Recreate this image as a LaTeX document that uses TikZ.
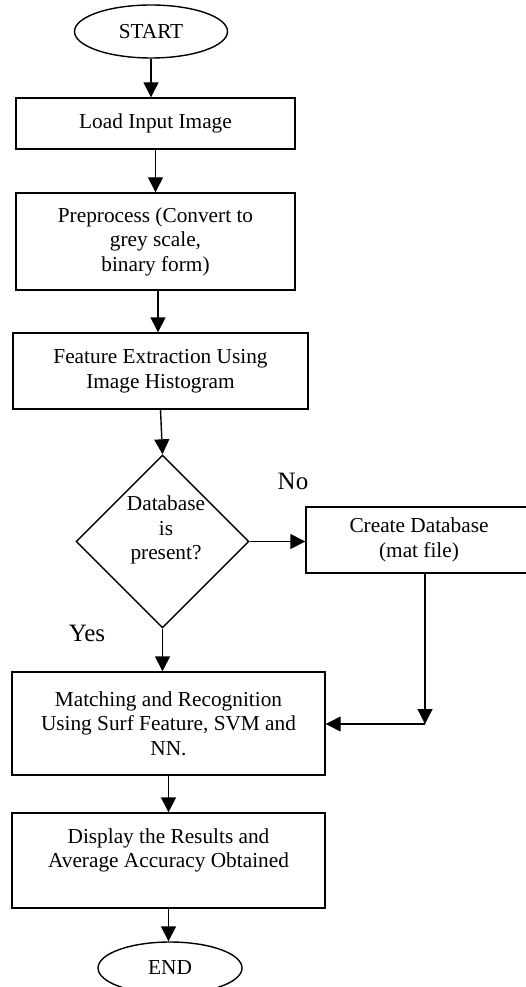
\documentclass[tikz,border=0pt]{standalone}
\usepackage{fontspec}
\setmainfont{Liberation Serif}
\usetikzlibrary{shapes.geometric,arrows.meta}
\begin{document}
\begin{tikzpicture}[x=1pt,y=-1pt,
  box/.style={draw,line width=1.4pt,rectangle,align=center,inner sep=0pt,font=\fontsize{21.3}{24.5}\selectfont},
  term/.style={draw,line width=1.4pt,ellipse,inner sep=0pt,font=\fontsize{21.3}{24.5}\selectfont},
  decision/.style={draw,line width=1.4pt,diamond,inner sep=0pt},
  txt/.style={align=center,inner sep=0pt,font=\fontsize{21.3}{24.5}\selectfont},
  arr/.style={line width=1.4pt,-{Triangle[length=15pt,width=15pt]}},
  lbl/.style={font=\fontsize{25}{30}\selectfont,inner sep=0pt}]
\useasboundingbox (0,0) rectangle (526,987);
\clip (0,0) rectangle (526,987);
\node[term,minimum width=153pt,minimum height=53pt] (start) at (151,31.5) {START};
\node[box,minimum width=279pt,minimum height=51pt] (load) at (155.5,123.5) {Load Input Image};
\node[box,minimum width=279pt,minimum height=97pt] (pre) at (155.5,241.5) {Preprocess (Convert to\\grey scale,\\binary form)};
\node[box,minimum width=295pt,minimum height=76pt] (feat) at (160.5,371) {Feature Extraction Using\\Image Histogram};
\node[decision,minimum width=173pt,minimum height=173pt] (dia) at (162.5,541.5) {};
\node[txt] (diatxt) at (166,530) {Database\\is\\present?};
\node[box,minimum width=226pt,minimum height=66pt] (create) at (419,540) {Create Database\\(mat file)};
\node[box,minimum width=313pt,minimum height=103pt] (match) at (168.5,723.5) {Matching and Recognition\\Using Surf Feature, SVM and\\NN.};
\node[box,minimum width=313pt,minimum height=95pt] (disp) at (168.5,860.5) {Display the Results and\\Average Accuracy Obtained\\\mbox{}};
\node[term,minimum width=144pt,minimum height=52pt] (end) at (170,968) {END};
\node[lbl] (no) at (293,481) {No};
\node[lbl] (yes) at (87,633) {Yes};
\coordinate (cc) at (425,724);
\draw[arr] (start.south) -- (start.south |- load.north);
\draw[arr] (load.south) -- (pre.north);
\draw[arr] ([xshift=2.5pt]pre.south) -- ([xshift=2.5pt]pre.south |- feat.north);
\draw[arr] (feat.south) -- (dia.north);
\draw[arr] (dia.east) -- (dia.east -| create.west);
\draw[arr] (dia.south) -- (dia.south |- match.north);
\draw[arr] (create.south -| cc) -- (cc);
\draw[arr] (cc) -- (cc -| match.east);
\draw[arr] (match.south) -- (disp.north);
\draw[arr] (disp.south) -- (disp.south |- end.north);
\end{tikzpicture}
\end{document}
